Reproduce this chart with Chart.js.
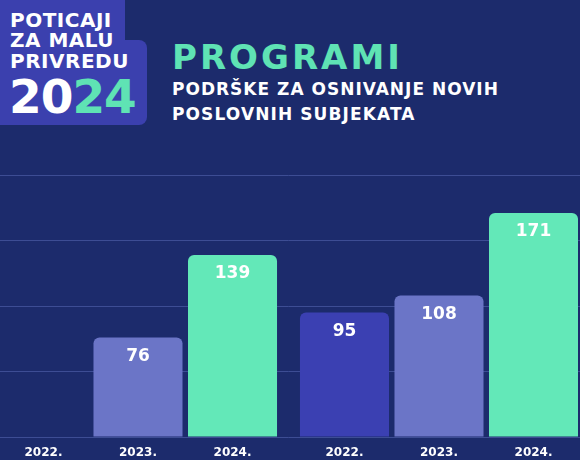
<!DOCTYPE html>
<html>
<head>
<meta charset="utf-8">
<script src="https://cdn.jsdelivr.net/npm/chart.js@4.4.0/dist/chart.umd.min.js"></script>
<style>
html, body { margin: 0; padding: 0; }
body {
  width: 580px; height: 460px; position: relative; overflow: hidden;
  background: #1c2b6c; color: #fff;
  font-family: "DejaVu Sans", sans-serif; font-weight: bold;
}
#chartBox { position: absolute; left: -20px; top: 0; width: 620px; height: 460px; }
.badge { position: absolute; background: #3b40ae; border-radius: 8px; }
.t { position: absolute; white-space: nowrap; line-height: 1; }
.mint { color: #5fe3b4; }
</style>
</head>
<body>
<div class="badge" style="left:-8px; top:-8px; width:133px; height:60px;"></div>
<div class="badge" style="left:-8px; top:40px; width:155px; height:85px;"></div>
<div class="t" style="left:10px; top:10px; font-size:20px; letter-spacing:0.5px;">POTICAJI</div>
<div class="t" style="left:10px; top:30px; font-size:20px; letter-spacing:0.5px;">ZA MALU</div>
<div class="t" style="left:10px; top:51px; font-size:20px; letter-spacing:0.5px;">PRIVREDU</div>
<div class="t" style="left:9px; top:73px; font-size:47px; letter-spacing:-1px;">20<span class="mint">24</span></div>

<div class="t mint" style="left:172px; top:40px; font-size:34px; letter-spacing:3px;">PROGRAMI</div>
<div class="t" style="left:172px; top:81px; font-size:17px; letter-spacing:1px;">PODRŠKE ZA OSNIVANJE NOVIH</div>
<div class="t" style="left:172px; top:106px; font-size:17px; letter-spacing:1.1px;">POSLOVNIH SUBJEKATA</div>

<div id="chartBox"><canvas id="barChart"></canvas></div>

<script>
const groups = ["Program 1", "Program 2"];
const years = ["2022.", "2023.", "2024."];
const values2022 = [null, 95];
const values2023 = [76, 108];
const values2024 = [139, 171];
const yMax = 200;
const yStep = 50;

const yearColors = ["#3b40b2", "#6b75c7", "#63e8b8"];

// value inside the top of each bar, year under each bar
const barText = {
  id: "barText",
  afterDatasetsDraw(chart) {
    const ctx = chart.ctx;
    const bottom = chart.chartArea.bottom;
    ctx.save();
    ctx.fillStyle = "#ffffff";
    ctx.textAlign = "center";
    ctx.textBaseline = "middle";
    chart.data.datasets.forEach((ds, i) => {
      chart.getDatasetMeta(i).data.forEach((bar, j) => {
        ctx.font = 'bold 12px "DejaVu Sans"';
        ctx.fillText(years[i], bar.x, bottom + 16);
        if (ds.data[j] != null) {
          ctx.font = 'bold 17px "DejaVu Sans"';
          ctx.fillText(ds.data[j], bar.x, bar.y + 19);
        }
      });
    });
    ctx.restore();
  }
};

const ctx = document.getElementById("barChart").getContext("2d");
new Chart(ctx, {
  type: "bar",
  data: {
    labels: groups,
    datasets: [
      { label: years[0], data: values2022, backgroundColor: yearColors[0] },
      { label: years[1], data: values2023, backgroundColor: yearColors[1] },
      { label: years[2], data: values2024, backgroundColor: yearColors[2] }
    ]
  },
  options: {
    responsive: true,
    maintainAspectRatio: false,
    animation: false,
    layout: {
      padding: { left: 7.5, right: 10.5, top: 175, bottom: 23 }
    },
    datasets: {
      bar: {
        categoryPercentage: 0.942,
        barPercentage: 0.942,
        borderRadius: 6,
        borderSkipped: "start"
      }
    },
    scales: {
      x: {
        display: false
      },
      y: {
        min: 0,
        max: yMax,
        ticks: { display: false, stepSize: yStep },
        border: { display: false },
        grid: { color: "#3d4d94", lineWidth: 1, drawTicks: false }
      }
    },
    plugins: {
      legend: { display: false },
      tooltip: { enabled: false }
    }
  },
  plugins: [barText]
});
</script>
</body>
</html>
